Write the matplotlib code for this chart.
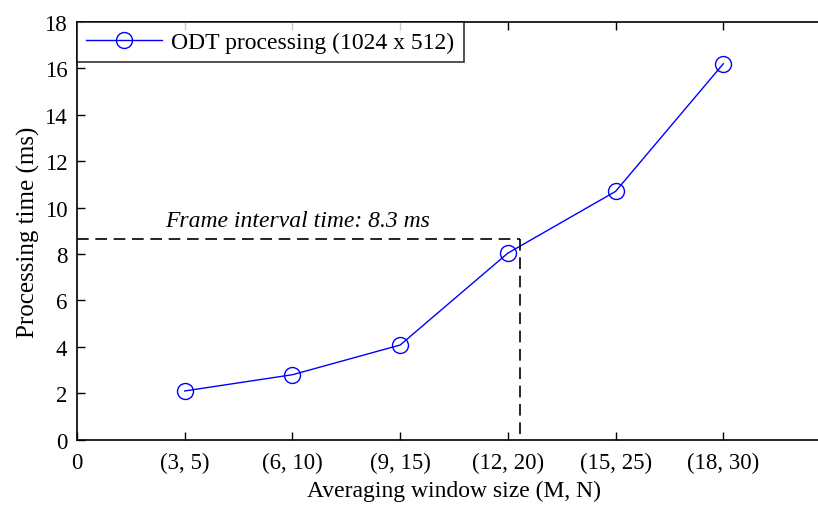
import matplotlib.pyplot as plt

plt.rcParams['font.family'] = ['Liberation Serif', 'DejaVu Serif']

# data
x_pos = [1, 2, 3, 4, 5, 6]
x_labels = ['(3, 5)', '(6, 10)', '(9, 15)', '(12, 20)', '(15, 25)', '(18, 30)']
proc_time = [2.1, 2.8, 4.08, 8.04, 10.7, 16.2]
frame_y = 8.65
frame_x = 4.11

fig = plt.figure(figsize=(8.18, 5.06), dpi=100)
W, H = 818, 506
ax = fig.add_axes([77 / W, (H - 440.7) / H, (831 - 77) / W, (440.7 - 23) / H])

ax.plot(x_pos, proc_time, color='#0000ff', lw=1, marker='o', markersize=11.5,
        markerfacecolor='none', markeredgecolor='#0000ff', markeredgewidth=1,
        label='ODT processing (1024 x 512)')

ax.plot([0, frame_x], [frame_y, frame_y], color='black', lw=1.2, ls=(0, (7, 4)))
ax.plot([frame_x, frame_x], [frame_y, 0], color='black', lw=1.2, ls=(0, (7, 4)))
ax.text(0.82, 9.2, 'Frame interval time: 8.3 ms', fontsize=17, style='italic')

ax.set_xlim(0, 7)
ax.set_ylim(0, 18)
ax.set_xticks([0] + x_pos)
ax.set_xticklabels(['0'] + x_labels)
ax.set_yticks(range(0, 19, 2))
ax.tick_params(direction='in', top=True, right=True, labelsize=16.5, length=6, width=1)
ax.tick_params(axis='x', pad=9)
ax.tick_params(axis='y', pad=7)
for s in ax.spines.values():
    s.set_linewidth(1.2)

ax.set_xlabel('Averaging window size (M, N)', fontsize=17, labelpad=5)
ax.set_ylabel('Processing time (ms)', fontsize=18, labelpad=3)

leg = ax.legend(loc='upper left', fontsize=17, frameon=True, fancybox=False,
                borderaxespad=0, handlelength=3.2, handletextpad=0.4, borderpad=0.4)
leg.get_frame().set_edgecolor('black')
leg.get_frame().set_linewidth(1.2)

fig.savefig('out.png', dpi=100)
